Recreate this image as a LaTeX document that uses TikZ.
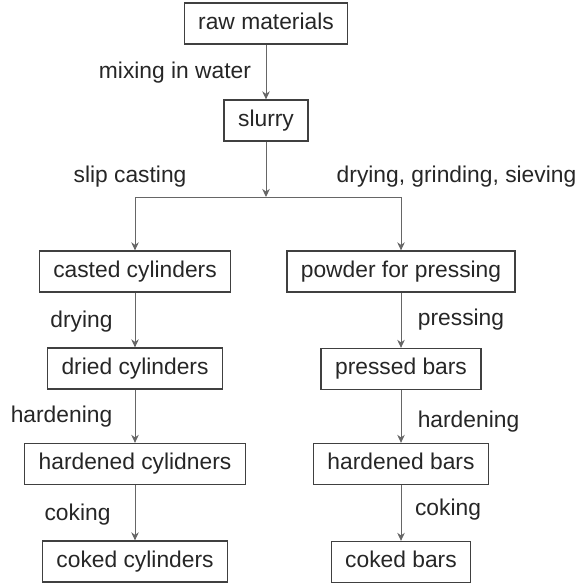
\documentclass[tikz,border=0pt]{standalone}
\usepackage{fontspec}
\setmainfont{Liberation Sans}
\usetikzlibrary{arrows.meta}
\begin{document}
\begin{tikzpicture}[x=1pt,y=-1pt,
  every node/.style={font=\fontsize{22.8}{27}\selectfont, text=black!85},
  box/.style={draw=black!75, line width=1.3pt, inner xsep=14pt, inner ysep=0pt,
              minimum height=41pt, text height=16.5pt, text depth=4.6pt},
  lbl/.style={inner sep=0pt, text height=16.5pt, text depth=4.6pt},
  flow/.style={draw=black!60, line width=1pt, -{Stealth[length=8pt,width=7.5pt,inset=2.5pt]}},
  link/.style={draw=black!60, line width=1pt}]
\useasboundingbox (0,0) rectangle (582,583);

% process steps
\node[box] (raw)    at (266,23.5)  {raw materials};
\node[box] (slurry) at (266,120.5) {slurry};
\coordinate (split) at (266,197);
\coordinate (splitL) at (135,197);
\coordinate (splitR) at (401,197);

% left branch: slip casting
\node[box] (cast)  at (135,271.5) {casted cylinders};
\node[box] (dried) at (135,368.5) {dried cylinders};
\node[box] (hcyl)  at (135,464)   {hardened cylidners};
\node[box] (ccyl)  at (135,561.5) {coked cylinders};

% right branch: pressing
\node[box] (powder)  at (401,271.5) {powder for pressing};
\node[box] (pressed) at (401,369)   {pressed bars};
\node[box] (hbar)    at (401,464)   {hardened bars};
\node[box] (cbar)    at (401,562)   {coked bars};

% connectors
\draw[flow] (raw) -- (slurry);
\draw[flow] (slurry) -- (split);
\draw[link] (splitL) -- (splitR);
\draw[flow] (splitL) -- (cast);
\draw[flow] (splitR) -- (powder);
\draw[flow] (cast) -- (dried);
\draw[flow] (dried) -- (hcyl);
\draw[flow] (hcyl) -- (ccyl);
\draw[flow] (powder) -- (pressed);
\draw[flow] (pressed) -- (hbar);
\draw[flow] (hbar) -- (cbar);

% step labels
\node[lbl] (lmix)   at (175,73)    {mixing in water};
\node[lbl] (lslip)  at (130,177)   {slip casting};
\node[lbl] (ldgs)   at (456.5,177) {drying, grinding, sieving};
\node[lbl] (ldry)   at (81.5,322)  {drying};
\node[lbl] (lpress) at (461,320)   {pressing};
\node[lbl] (lhardL) at (61.5,417)  {hardening};
\node[lbl] (lhardR) at (468.5,422) {hardening};
\node[lbl] (lcokeL) at (77.5,515)  {coking};
\node[lbl] (lcokeR) at (448,510)   {coking};
\end{tikzpicture}
\end{document}
